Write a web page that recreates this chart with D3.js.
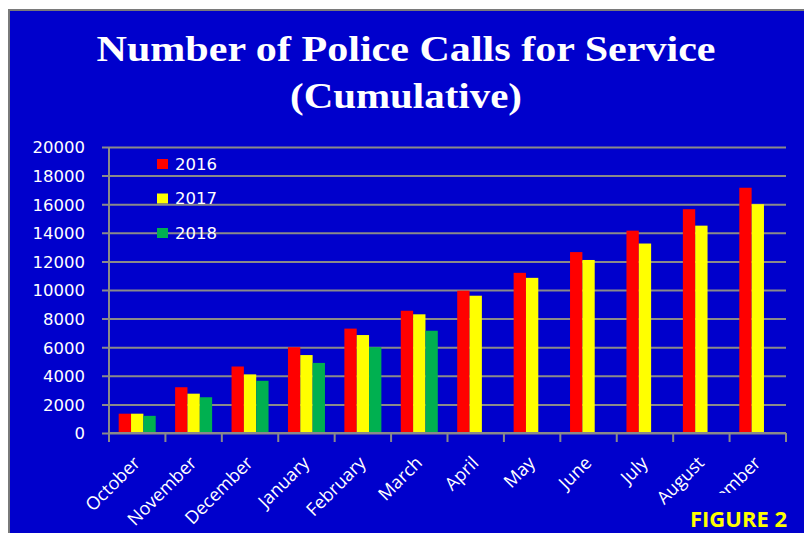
<!DOCTYPE html>
<html><head><meta charset="utf-8">
<script src="https://cdn.jsdelivr.net/npm/d3@7"></script>
<style>html,body{margin:0;padding:0;background:#fff;}svg{display:block;}</style>
</head><body>
<svg id="chart" width="804" height="533"></svg>
<script>
const months = ["October","November","December","January","February","March","April","May","June","July","August","September"];
const seriesNames = ["2016","2017","2018"];
const seriesColors = ["#FF0000","#FFFF00","#00B050"];
const s2016 = [1350,3200,4650,6000,7300,8550,9950,11200,12650,14150,15650,17150];
const s2017 = [1350,2750,4100,5450,6850,8300,9600,10850,12100,13250,14500,16000];
const s2018 = [1200,2500,3650,4900,6000,7150,null,null,null,null,null,null];
const yTicks = [0,2000,4000,6000,8000,10000,12000,14000,16000,18000,20000];
const titleLines = ["Number of Police Calls for Service","(Cumulative)"];
const figureLabel = "FIGURE 2";

(function(){
const seriesValues = [s2016, s2017, s2018];
const svg = d3.select("#chart");
const BG = "#0000CC", GRID = "#8A8A8A";

svg.append("rect").attr("x",9).attr("y",10).attr("width",795).attr("height",523).attr("fill",BG);
svg.append("path").attr("d","M9,533V10H804").attr("fill","none").attr("stroke","#7a7a7a").attr("stroke-width",2);

svg.selectAll("text.title").data(titleLines).join("text")
  .attr("class","title")
  .attr("x",406).attr("y",(d,i)=> i===0 ? 61 : 108)
  .attr("text-anchor","middle")
  .attr("font-family","'Liberation Serif', serif")
  .attr("font-weight","bold")
  .attr("font-size",36)
  .attr("fill","#fff")
  .attr("textLength",(d,i)=> i===0 ? 619 : 232)
  .attr("lengthAdjust","spacingAndGlyphs")
  .text(d=>d);

const pL=109, pR=786, pT=147, pB=433;
const x = d3.scaleBand().domain(months).range([pL,pR]).padding(0);
const xs = d3.scaleBand().domain(seriesNames).range([0,x.bandwidth()]).paddingInner(0).paddingOuter(0.787);
const y = d3.scaleLinear().domain([0,20000]).range([pB,pT]);

const yAxis = d3.axisLeft(y).tickValues(yTicks).tickSize(-(pR-pL)).tickSizeOuter(0).tickPadding(24).tickFormat(d3.format("d"));
const gy = svg.append("g").attr("transform",`translate(${pL},0)`).call(yAxis);
gy.select(".domain").remove();
gy.selectAll(".tick line").attr("stroke",GRID).attr("stroke-width",2).attr("x1",-7);
gy.selectAll(".tick text").attr("fill","#fff").attr("font-family","'DejaVu Sans', sans-serif").attr("font-size",16.5).attr("dy","0.36em");
svg.append("line").attr("x1",pL).attr("x2",pL).attr("y1",pT).attr("y2",pB+9).attr("stroke",GRID).attr("stroke-width",2);

const groups = svg.append("g").selectAll("g").data(months).join("g")
  .attr("transform",d=>`translate(${x(d)},0)`);
groups.selectAll("rect").data((m,i)=> seriesNames.map((s,k)=>({s, v: seriesValues[k][i], c: seriesColors[k]})).filter(d=>d.v!=null))
  .join("rect")
  .attr("x",d=>xs(d.s)).attr("width",xs.bandwidth())
  .attr("y",d=>y(d.v)).attr("height",d=>y(0)-y(d.v))
  .attr("fill",d=>d.c);

const xAxis = d3.axisBottom(x).tickSize(0).tickFormat("");
const gx = svg.append("g").attr("transform",`translate(0,${pB})`).call(xAxis);
gx.select(".domain").attr("stroke",GRID).attr("stroke-width",2).attr("d",`M${pL},0H${pR}`);
const bounds = months.map(m=>x(m)).concat([pR]);
svg.append("g").selectAll("line").data(bounds).join("line")
  .attr("x1",d=>d).attr("x2",d=>d).attr("y1",pB).attr("y2",pB+9)
  .attr("stroke",GRID).attr("stroke-width",2);
svg.append("g").selectAll("text").data(months).join("text")
  .attr("transform",d=>`translate(${x(d)+x.bandwidth()/2+4},${pB+31}) rotate(-45)`)
  .attr("text-anchor","end")
  .attr("font-family","'Open Sans', sans-serif")
  .attr("font-size",18)
  .attr("fill","#fff")
  .text(d=>d);

const lg = svg.append("g").selectAll("g").data(seriesNames).join("g")
  .attr("transform",(d,i)=>`translate(157,${164+i*34.5})`);
lg.append("rect").attr("x",0).attr("y",-5).attr("width",11).attr("height",10).attr("fill",(d,i)=>seriesColors[i]);
lg.append("text").attr("x",18).attr("y",0).attr("dy","0.36em").attr("fill","#fff")
  .attr("font-family","'DejaVu Sans', sans-serif").attr("font-size",16.5).text(d=>d);

svg.append("rect").attr("x",681).attr("y",493).attr("width",123).attr("height",40).attr("fill",BG);
svg.append("text").attr("x",690).attr("y",527).attr("fill","#FFFF00")
  .attr("font-family","'Open Sans', sans-serif").attr("font-weight","bold").attr("font-size",22)
  .attr("textLength",97).attr("lengthAdjust","spacingAndGlyphs").text(figureLabel);
})();
</script>
</body></html>
